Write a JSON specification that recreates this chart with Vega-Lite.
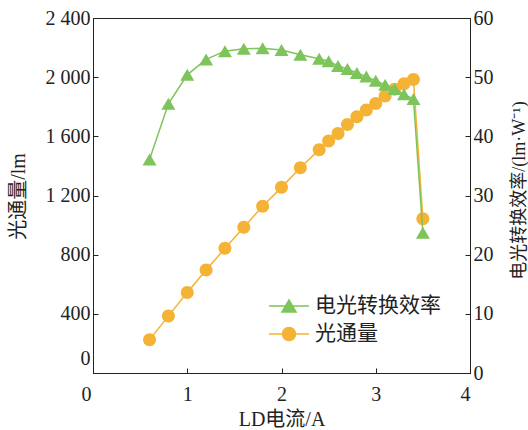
{
  "$schema": "https://vega.github.io/schema/vega-lite/v6.json",
  "width": 377,
  "height": 355,
  "autosize": {"type": "none"},
  "padding": {"left": 93, "top": 18, "right": 58, "bottom": 57},
  "background": "white",
  "config": {
    "view": {"stroke": "#222", "strokeWidth": 1},
    "axis": {
      "grid": false,
      "domainColor": "#222",
      "tickColor": "#222",
      "labelColor": "#222",
      "titleColor": "#222",
      "labelFont": "Liberation Serif",
      "titleFont": "Liberation Serif, Noto Sans CJK SC",
      "labelFontSize": 20,
      "titleFontSize": 20,
      "titleFontWeight": "normal",
      "tickSize": -5,
      "labelPadding": 8
    },
    "legend": {
      "orient": "none",
      "legendX": 185,
      "legendY": 277,
      "title": null,
      "labelFont": "Liberation Serif, Noto Sans CJK SC",
      "labelFontSize": 21,
      "labelColor": "#222",
      "symbolSize": 400,
      "symbolStrokeWidth": 1.5,
      "labelOffset": 15,
      "rowPadding": 7
    }
  },
  "data": {
    "values": [
      {"I": 0.6, "series": "光通量", "v": 224},
      {"I": 0.8, "series": "光通量", "v": 386},
      {"I": 1.0, "series": "光通量", "v": 544},
      {"I": 1.2, "series": "光通量", "v": 696},
      {"I": 1.4, "series": "光通量", "v": 843},
      {"I": 1.6, "series": "光通量", "v": 985},
      {"I": 1.8, "series": "光通量", "v": 1128},
      {"I": 2.0, "series": "光通量", "v": 1255},
      {"I": 2.2, "series": "光通量", "v": 1388},
      {"I": 2.4, "series": "光通量", "v": 1510},
      {"I": 2.5, "series": "光通量", "v": 1568},
      {"I": 2.6, "series": "光通量", "v": 1620},
      {"I": 2.7, "series": "光通量", "v": 1680},
      {"I": 2.8, "series": "光通量", "v": 1733},
      {"I": 2.9, "series": "光通量", "v": 1778},
      {"I": 3.0, "series": "光通量", "v": 1822},
      {"I": 3.1, "series": "光通量", "v": 1873},
      {"I": 3.2, "series": "光通量", "v": 1919},
      {"I": 3.3, "series": "光通量", "v": 1955},
      {"I": 3.4, "series": "光通量", "v": 1984},
      {"I": 3.5, "series": "光通量", "v": 1042},
      {"I": 0.6, "series": "电光转换效率", "v": 36.1},
      {"I": 0.8, "series": "电光转换效率", "v": 45.5},
      {"I": 1.0, "series": "电光转换效率", "v": 50.4},
      {"I": 1.2, "series": "电光转换效率", "v": 53.0},
      {"I": 1.4, "series": "电光转换效率", "v": 54.4},
      {"I": 1.6, "series": "电光转换效率", "v": 54.8},
      {"I": 1.8, "series": "电光转换效率", "v": 54.9},
      {"I": 2.0, "series": "电光转换效率", "v": 54.6},
      {"I": 2.2, "series": "电光转换效率", "v": 53.8},
      {"I": 2.4, "series": "电光转换效率", "v": 53.1},
      {"I": 2.5, "series": "电光转换效率", "v": 52.7},
      {"I": 2.6, "series": "电光转换效率", "v": 51.9},
      {"I": 2.7, "series": "电光转换效率", "v": 51.4},
      {"I": 2.8, "series": "电光转换效率", "v": 50.7},
      {"I": 2.9, "series": "电光转换效率", "v": 50.1},
      {"I": 3.0, "series": "电光转换效率", "v": 49.4},
      {"I": 3.1, "series": "电光转换效率", "v": 48.7},
      {"I": 3.2, "series": "电光转换效率", "v": 48.0},
      {"I": 3.3, "series": "电光转换效率", "v": 47.1},
      {"I": 3.4, "series": "电光转换效率", "v": 46.3},
      {"I": 3.5, "series": "电光转换效率", "v": 23.7}
    ]
  },
  "encoding": {
    "x": {
      "field": "I",
      "type": "quantitative",
      "scale": {"domain": [0, 4]},
      "axis": {
        "values": [0, 1, 2, 3, 4],
        "title": "LD电流/A",
        "labelOffset": {"condition": {"test": "datum.value == 0", "value": -12}, "value": 0},
        "labelPadding": 16,
        "titleX": 188.5,
        "titleY": 46,
        "titleBaseline": "middle"
      }
    }
  },
  "layer": [
    {
      "transform": [{"filter": "datum.series == '光通量'"}],
      "encoding": {
        "y": {
          "field": "v",
          "type": "quantitative",
          "scale": {"domain": [0, 2400]},
          "axis": {
            "orient": "left",
            "values": [0, 400, 800, 1200, 1600, 2000, 2400],
            "labelExpr": "replace(format(datum.value, ','), ',', ' ')",
            "labelOffset": {"condition": {"test": "datum.value == 0", "value": -15}, "value": 0},
            "title": "光通量/lm",
            "titleX": -75,
            "titleY": 178,
            "titleAngle": 270,
            "titleBaseline": "middle",
            "titleAlign": "center"
          }
        }
      },
      "layer": [
        {"mark": {"type": "line", "color": "#F5B335", "strokeWidth": 1.5}},
        {
          "mark": {"type": "point", "filled": true, "size": 400, "opacity": 1},
          "encoding": {
            "color": {
              "field": "series",
              "type": "nominal",
              "scale": {"domain": ["电光转换效率", "光通量"], "range": ["#7DC45A", "#F5B335"]},
              "legend": {"title": null}
            },
            "stroke": {
              "field": "series",
              "type": "nominal",
              "scale": {"domain": ["电光转换效率", "光通量"], "range": ["#7DC45A", "#F5B335"]},
              "legend": {"title": null}
            },
            "strokeWidth": {"value": 0},
            "shape": {
              "field": "series",
              "type": "nominal",
              "scale": {
                "domain": ["电光转换效率", "光通量"],
                "range": [
                  "M-2,0H2M0,-0.6L0.7,0.6L-0.7,0.6Z",
                  "M-2,0H2M0.65,0C0.65,0.359,0.359,0.65,0,0.65C-0.359,0.65,-0.65,0.359,-0.65,0C-0.65,-0.359,-0.359,-0.65,0,-0.65C0.359,-0.65,0.65,-0.359,0.65,0Z"
                ]
              },
              "legend": {"title": null}
            }
          }
        }
      ]
    },
    {
      "transform": [{"filter": "datum.series == '电光转换效率'"}],
      "encoding": {
        "y": {
          "field": "v",
          "type": "quantitative",
          "scale": {"domain": [0, 60]},
          "axis": {
            "orient": "right",
            "values": [0, 10, 20, 30, 40, 50, 60],
            "title": "电光转换效率/(lm·W⁻¹)",
            "titleFontSize": 18,
            "titleX": 49,
            "titleY": 172,
            "titleAngle": 270,
            "titleBaseline": "middle",
            "titleAlign": "center"
          }
        }
      },
      "layer": [
        {"mark": {"type": "line", "color": "#7DC45A", "strokeWidth": 1.5}},
        {
          "mark": {"type": "point", "filled": true, "size": 400, "opacity": 1},
          "encoding": {
            "color": {
              "field": "series",
              "type": "nominal",
              "scale": {"domain": ["电光转换效率", "光通量"], "range": ["#7DC45A", "#F5B335"]},
              "legend": {"title": null}
            },
            "stroke": {
              "field": "series",
              "type": "nominal",
              "scale": {"domain": ["电光转换效率", "光通量"], "range": ["#7DC45A", "#F5B335"]},
              "legend": {"title": null}
            },
            "strokeWidth": {"value": 0},
            "shape": {
              "field": "series",
              "type": "nominal",
              "scale": {
                "domain": ["电光转换效率", "光通量"],
                "range": [
                  "M-2,0H2M0,-0.6L0.7,0.6L-0.7,0.6Z",
                  "M-2,0H2M0.65,0C0.65,0.359,0.359,0.65,0,0.65C-0.359,0.65,-0.65,0.359,-0.65,0C-0.65,-0.359,-0.359,-0.65,0,-0.65C0.359,-0.65,0.65,-0.359,0.65,0Z"
                ]
              },
              "legend": {"title": null}
            }
          }
        }
      ]
    }
  ],
  "resolve": {"scale": {"y": "independent"}}
}
